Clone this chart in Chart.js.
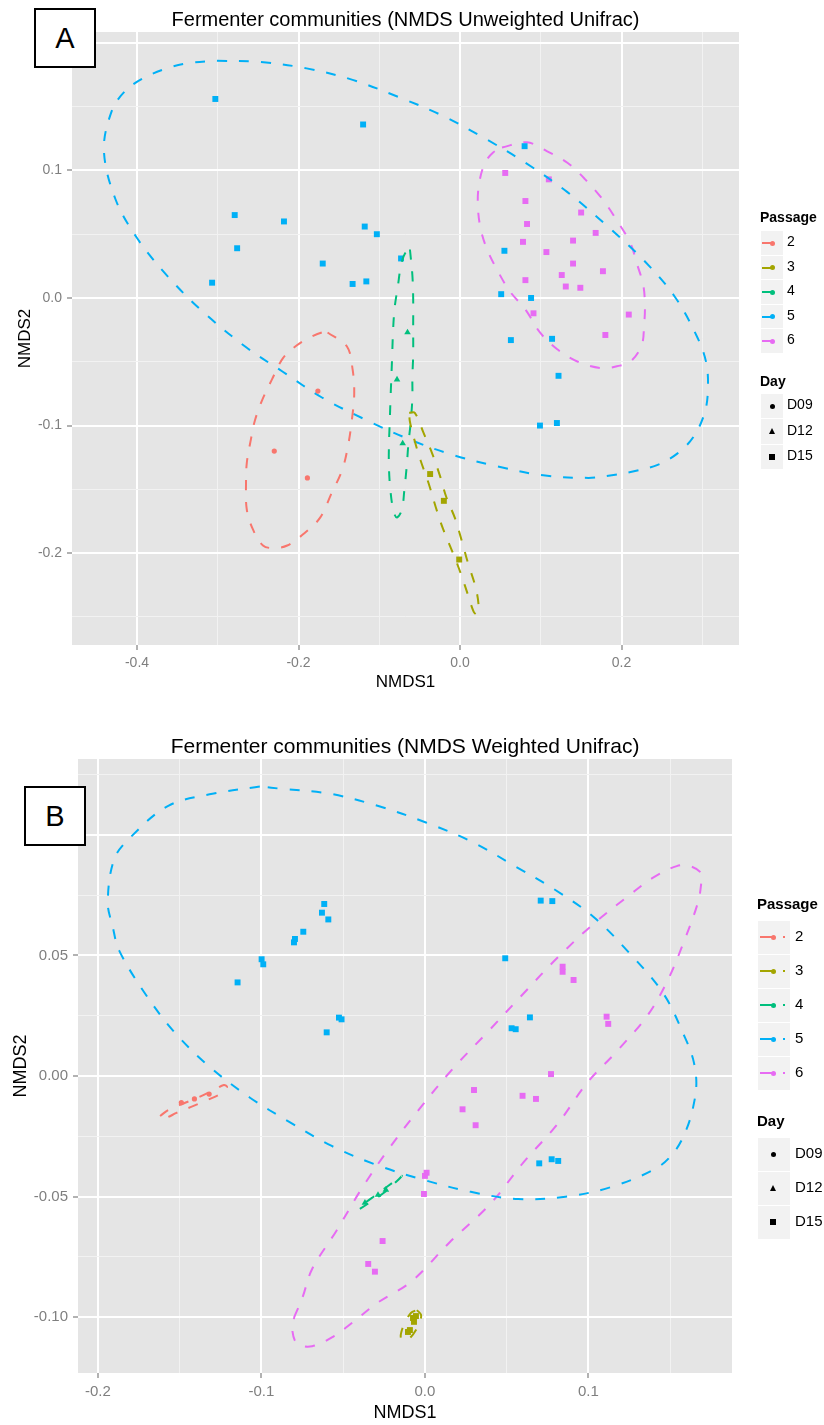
<!DOCTYPE html>
<html>
<head>
<meta charset="utf-8">
<script src="https://cdn.jsdelivr.net/npm/chart.js@4"></script>
<style>
  body { margin: 0; background: #fff; width: 824px; height: 1425px; position: relative; overflow: hidden; }
  canvas { position: absolute; left: 0; }
  #chartA { top: 0; }
  #chartB { top: 700px; }
  .tag { position: absolute; box-sizing: border-box; border: 2px solid #000; background: #fff;
         font: 29px "Liberation Sans", Arial, sans-serif; display: flex; align-items: center; justify-content: center; }
</style>
</head>
<body>
<canvas id="chartA" width="824" height="700" style="width:824px;height:700px"></canvas>
<canvas id="chartB" width="824" height="725" style="width:824px;height:725px"></canvas>
<div class="tag" style="left:34px;top:8px;width:62px;height:60px">A</div>
<div class="tag" style="left:24px;top:786px;width:62px;height:60px">B</div>
<script>
const FONT = '"Liberation Sans", Arial, sans-serif';

const passages = ["2", "3", "4", "5", "6"];
const passageColors = ["#F8766D", "#A3A500", "#00BF7D", "#00B0F6", "#E76BF3"];
const days = ["D09", "D12", "D15"];
const dayShapes = { D09: "circle", D12: "triangle", D15: "rect" };
const dayRadius = { D09: 2.6, D12: 3.8, D15: 4.2 };

// ---- panel A : NMDS Unweighted Unifrac ----
const a2x = [-0.176, -0.230, -0.189];
const a2y = [-0.073, -0.120, -0.141];
const a2d = ["D09", "D09", "D09"];
const a3x = [-0.037, -0.020, -0.001];
const a3y = [-0.138, -0.159, -0.205];
const a3d = ["D15", "D15", "D15"];
const a4x = [-0.065, -0.078, -0.071];
const a4y = [-0.027, -0.064, -0.114];
const a4d = ["D12", "D12", "D12"];
const a5x = [-0.303, -0.120, -0.279, -0.218, -0.276, -0.307, -0.118, -0.103, -0.170, -0.133, -0.116, -0.073,
             0.080, 0.055, 0.051, 0.088, 0.114, 0.063, 0.122, 0.099, 0.120];
const a5y = [0.156, 0.136, 0.065, 0.060, 0.039, 0.012, 0.056, 0.050, 0.027, 0.011, 0.013, 0.031,
             0.119, 0.037, 0.003, 0.000, -0.032, -0.033, -0.061, -0.100, -0.098];
const a5d = a5x.map(() => "D15");
const a6x = [0.056, 0.110, 0.081, 0.150, 0.083, 0.168, 0.078, 0.140, 0.107, 0.140, 0.177, 0.126, 0.081,
             0.131, 0.149, 0.091, 0.209, 0.180];
const a6y = [0.098, 0.093, 0.076, 0.067, 0.058, 0.051, 0.044, 0.045, 0.036, 0.027, 0.021, 0.018, 0.014,
             0.009, 0.008, -0.012, -0.013, -0.029];
const a6d = a6x.map(() => "D15");

// ellipse outlines
const aE2x = [-0.164, -0.140, -0.133, -0.131, -0.134, -0.139, -0.146, -0.159, -0.173, -0.192, -0.214, -0.232, -0.244,
              -0.256, -0.264, -0.265, -0.264, -0.259, -0.254, -0.245, -0.233, -0.219, -0.202, -0.186, -0.171];
const aE2y = [-0.027, -0.038, -0.056, -0.075, -0.096, -0.117, -0.135, -0.153, -0.172, -0.184, -0.194, -0.196, -0.194,
              -0.182, -0.166, -0.145, -0.129, -0.111, -0.096, -0.080, -0.064, -0.047, -0.037, -0.031, -0.027];
const aE3x = [-0.063, -0.056, -0.045, -0.035, -0.025, -0.017, -0.006, 0.002, 0.010, 0.019, 0.023, 0.021, 0.017,
              0.010, 0.001, -0.010, -0.021, -0.030, -0.039, -0.049, -0.057, -0.062];
const aE3y = [-0.090, -0.090, -0.106, -0.121, -0.139, -0.156, -0.173, -0.190, -0.208, -0.226, -0.241, -0.248, -0.246,
              -0.233, -0.216, -0.198, -0.181, -0.164, -0.145, -0.127, -0.110, -0.097];
const aE4x = [-0.062, -0.059, -0.058, -0.058, -0.058, -0.059, -0.059, -0.061, -0.064, -0.066, -0.069, -0.072, -0.078,
              -0.082, -0.086, -0.088, -0.088, -0.087, -0.086, -0.085, -0.084, -0.083, -0.081, -0.077, -0.073, -0.068];
const aE4y = [0.038, 0.018, 0.000, -0.024, -0.045, -0.062, -0.078, -0.097, -0.115, -0.132, -0.151, -0.166, -0.172,
              -0.168, -0.152, -0.133, -0.115, -0.097, -0.078, -0.062, -0.045, -0.027, -0.008, 0.009, 0.026, 0.035];
const aE5x = [-0.301, -0.248, -0.190, -0.133, -0.074, -0.022, 0.031, 0.081, 0.133, 0.183, 0.227, 0.266, 0.294, 0.305,
              0.307, 0.303, 0.289, 0.269, 0.244, 0.214, 0.188, 0.159, 0.103, 0.046, -0.009, -0.062, -0.115, -0.171,
              -0.219, -0.264, -0.318, -0.362, -0.400, -0.427, -0.441, -0.431, -0.415, -0.393, -0.363, -0.337];
const aE5y = [0.186, 0.185, 0.180, 0.171, 0.157, 0.143, 0.125, 0.106, 0.083, 0.056, 0.030, 0.001, -0.031, -0.051,
              -0.072, -0.090, -0.109, -0.122, -0.131, -0.136, -0.139, -0.141, -0.139, -0.132, -0.123, -0.111, -0.096,
              -0.078, -0.058, -0.039, -0.011, 0.017, 0.047, 0.078, 0.116, 0.147, 0.162, 0.172, 0.180, 0.184];
const aE6x = [0.052, 0.083, 0.108, 0.133, 0.155, 0.177, 0.194, 0.211, 0.219, 0.227, 0.229, 0.228, 0.225, 0.211,
              0.198, 0.176, 0.146, 0.120, 0.099, 0.081, 0.062, 0.046, 0.033, 0.025, 0.022, 0.024, 0.031, 0.041];
const aE6y = [0.118, 0.122, 0.115, 0.106, 0.093, 0.077, 0.061, 0.043, 0.027, 0.010, -0.007, -0.021, -0.037, -0.050,
              -0.053, -0.055, -0.050, -0.040, -0.027, -0.009, 0.005, 0.022, 0.039, 0.056, 0.075, 0.091, 0.106, 0.114];

// axis breaks A
const aXLabeled = [-0.4, -0.2, 0.0, 0.2];
const aXMinor = [-0.3, -0.1, 0.1, 0.3];
const aYLabeled = [0.1, 0.0, -0.1, -0.2];
const aYExtra = [0.2];
const aYMinor = [0.15, 0.05, -0.05, -0.15, -0.25];

// ---- panel B : NMDS Weighted Unifrac ----
const b2x = [-0.149, -0.141, -0.132];
const b2y = [-0.011, -0.0095, -0.0075];
const b2d = ["D09", "D09", "D09"];
const b3x = [-0.0073, -0.0067, -0.0055, -0.0092, -0.0104];
const b3y = [-0.1003, -0.1019, -0.0995, -0.1053, -0.1061];
const b3d = b3x.map(() => "D15");
const b4x = [-0.0367, -0.0287, -0.0239];
const b4y = [-0.0526, -0.0493, -0.0472];
const b4d = ["D12", "D12", "D12"];
const b5x = [-0.0616, -0.0630, -0.0591, -0.0744, -0.0795, -0.0801, -0.0999, -0.0989, -0.1146, -0.0526, -0.0510,
             -0.0601, 0.0708, 0.0779, 0.0491, 0.0642, 0.0530, 0.0555, 0.0699, 0.0775, 0.0815];
const b5y = [0.0713, 0.0677, 0.0649, 0.0598, 0.0568, 0.0554, 0.0484, 0.0463, 0.0388, 0.0242, 0.0235,
             0.0181, 0.0727, 0.0725, 0.0488, 0.0243, 0.0198, 0.0194, -0.0362, -0.0345, -0.0352];
const b5d = b5x.map(() => "D15");
const b6x = [0.0842, 0.0842, 0.0909, 0.1111, 0.1121, 0.0771, 0.0300, 0.0597, 0.0679, 0.0230, 0.0310, 0.0010,
             0.0000, -0.0006, -0.0259, -0.0347, -0.0306];
const b6y = [0.0453, 0.0432, 0.0398, 0.0246, 0.0216, 0.0008, -0.0058, -0.0082, -0.0095, -0.0138, -0.0204, -0.0401,
             -0.0414, -0.0489, -0.0684, -0.0779, -0.0811];
const b6d = b6x.map(() => "D15");

const bE2x = [-0.162, -0.157, -0.147, -0.138, -0.128, -0.123, -0.121, -0.124, -0.133, -0.143, -0.152, -0.159];
const bE2y = [-0.0166, -0.0141, -0.0112, -0.0087, -0.0054, -0.0037, -0.0046, -0.0070, -0.0099, -0.0128, -0.0153, -0.0174];
const bE3x = [-0.0049, -0.0024, -0.0031, -0.0055, -0.0086, -0.0122, -0.0147, -0.0141, -0.0116, -0.0086];
const bE3y = [-0.0970, -0.0990, -0.1019, -0.1053, -0.1082, -0.1098, -0.1086, -0.1053, -0.1015, -0.0982];
const bE4x = [-0.0398, -0.0324, -0.0245, -0.0171, -0.0141, -0.0159, -0.0226, -0.0300, -0.0373];
const bE4y = [-0.0551, -0.0518, -0.0481, -0.0435, -0.0414, -0.0423, -0.0456, -0.0493, -0.0530];
const bE5x = [-0.101, -0.130, -0.157, -0.180, -0.190, -0.194, -0.191, -0.187, -0.171, -0.153, -0.132, -0.107, -0.083,
              -0.057, -0.029, -0.001, 0.028, 0.057, 0.086, 0.114, 0.142, 0.153, 0.160, 0.164, 0.166, 0.164, 0.159,
              0.146, 0.125, 0.103, 0.080, 0.055, 0.029, 0.001, -0.029, -0.058, -0.087];
const bE5y = [0.120, 0.117, 0.112, 0.099, 0.090, 0.072, 0.062, 0.052, 0.034, 0.018, 0.004, -0.009, -0.019,
              -0.029, -0.037, -0.043, -0.048, -0.051, -0.050, -0.046, -0.038, -0.031, -0.022, -0.013, -0.003, 0.007, 0.016,
              0.034, 0.051, 0.066, 0.077, 0.087, 0.097, 0.105, 0.112, 0.117, 0.119];
const bE6x = [-0.080, -0.075, -0.069, -0.054, -0.039, -0.023, -0.005, 0.017, 0.038, 0.060, 0.081, 0.103, 0.127, 0.139,
              0.154, 0.162, 0.169, 0.169, 0.167, 0.158, 0.148, 0.136, 0.117, 0.099, 0.081, 0.060, 0.040, 0.015, -0.008,
              -0.029, -0.044, -0.056, -0.069, -0.078, -0.081];
const bE6y = [-0.100, -0.092, -0.080, -0.064, -0.047, -0.031, -0.015, 0.003, 0.018, 0.034, 0.049, 0.063, 0.076, 0.082,
              0.087, 0.087, 0.084, 0.080, 0.072, 0.055, 0.039, 0.025, 0.010, -0.003, -0.020, -0.036, -0.053, -0.069, -0.085,
              -0.094, -0.102, -0.108, -0.112, -0.111, -0.106];

// axis breaks B
const bXLabeled = [-0.2, -0.1, 0.0, 0.1];
const bXMinor = [-0.15, -0.05, 0.05, 0.15];
const bYLabeled = [0.05, 0.0, -0.05, -0.10];
const bYExtra = [0.10];
const bYMinor = [0.125, 0.075, 0.025, -0.025, -0.075];

function pointsOf(xs, ys) {
  return xs.map((x, i) => ({ x: x, y: ys[i] }));
}
function loopOf(xs, ys) {
  const p = pointsOf(xs, ys);
  p.push(p[0]);
  return p;
}
function near(list, v) {
  return list.some(t => Math.abs(t - v) < 1e-9);
}

function makeDatasets(pts, ells) {
  let sets = [];
  for (let i = 0; i < passages.length; i++) {
    sets.push({
      label: "ellipse " + passages[i],
      data: loopOf(ells[i][0], ells[i][1]),
      showLine: true,
      borderColor: passageColors[i],
      borderWidth: 2,
      borderDash: [10, 12],
      pointRadius: 0,
      tension: 0.35,
      fill: false,
    });
    sets.push({
      label: "Passage " + passages[i],
      data: pointsOf(pts[i][0], pts[i][1]),
      backgroundColor: passageColors[i],
      borderWidth: 0,
      pointStyle: pts[i][2].map(d => dayShapes[d]),
      pointRadius: pts[i][2].map(d => dayRadius[d]),
    });
  }
  return sets;
}

function makeScale(o) {
  return {
    type: "linear",
    position: o.pos,
    min: o.min,
    max: o.max,
    afterBuildTicks: s => {
      s.ticks = o.labeled.concat(o.extra, o.minor).sort((a, b) => a - b).map(v => ({ value: v }));
    },
    afterFit: s => {
      if (o.pos === "left") s.width = o.size;
      else s.height = o.size;
    },
    border: { display: false },
    grid: {
      color: c => (c.tick && near(o.minor, c.tick.value)) ? "#F2F2F2" : "#FFFFFF",
      lineWidth: c => (c.tick && near(o.minor, c.tick.value)) ? 1 : 2,
      tickColor: c => (c.tick && near(o.labeled, c.tick.value)) ? "#7F7F7F" : "rgba(0,0,0,0)",
      tickLength: 5,
      tickWidth: 1.2,
    },
    ticks: {
      autoSkip: false,
      maxRotation: 0,
      padding: o.tickPad,
      color: "#7F7F7F",
      font: { family: FONT, size: o.tickSize },
      callback: v => near(o.labeled, v) ? v.toFixed(o.digits) : "",
    },
    title: {
      display: true,
      text: o.title,
      color: "#000",
      font: { family: FONT, size: o.titleSize, lineHeight: 1.2 },
      padding: o.titlePad,
    },
  };
}

const panelBg = {
  id: "panelBg",
  beforeDraw(chart) {
    const a = chart.chartArea;
    const ctx = chart.ctx;
    ctx.save();
    ctx.fillStyle = "#E5E5E5";
    ctx.fillRect(a.left, a.top, a.right - a.left, a.bottom - a.top);
    ctx.restore();
  },
};

function drawPanel(id, o) {
  const ctx = document.getElementById(id).getContext("2d");
  return new Chart(ctx, {
    type: "scatter",
    data: { datasets: makeDatasets(o.pts, o.ells) },
    options: {
      responsive: false,
      animation: false,
      events: [],
      layout: { padding: { left: 0, right: o.padRight, top: 0, bottom: 0 } },
      scales: { x: o.x, y: o.y },
      plugins: {
        legend: { display: false },
        tooltip: { enabled: false },
        title: {
          display: true,
          text: o.title,
          fullSize: false,
          color: "#000",
          font: { family: FONT, size: o.titleSize, weight: "normal", lineHeight: 1 },
          padding: o.titlePad,
        },
      },
    },
    plugins: [panelBg],
  });
}

drawPanel("chartA", {
  title: "Fermenter communities (NMDS Unweighted Unifrac)",
  titleSize: 20,
  titlePad: { top: 10.5, bottom: 1.5 },
  padRight: 85,
  pts: [[a2x, a2y, a2d], [a3x, a3y, a3d], [a4x, a4y, a4d], [a5x, a5y, a5d], [a6x, a6y, a6d]],
  ells: [[aE2x, aE2y], [aE3x, aE3y], [aE4x, aE4y], [aE5x, aE5y], [aE6x, aE6y]],
  x: makeScale({ pos: "bottom", min: -0.4805, max: 0.3455, labeled: aXLabeled, extra: [], minor: aXMinor,
    digits: 1, size: 55, tickPad: 5, tickSize: 14, title: "NMDS1", titleSize: 17, titlePad: { top: 0, bottom: 7 } }),
  y: makeScale({ pos: "left", min: -0.272, max: 0.2085, labeled: aYLabeled, extra: aYExtra, minor: aYMinor,
    digits: 1, size: 72, tickPad: 5, tickSize: 14, title: "NMDS2", titleSize: 17, titlePad: { top: 15, bottom: 0 } }),
});

drawPanel("chartB", {
  title: "Fermenter communities (NMDS Weighted Unifrac)",
  titleSize: 21,
  titlePad: { top: 36.5, bottom: 1.5 },
  padRight: 92,
  pts: [[b2x, b2y, b2d], [b3x, b3y, b3d], [b4x, b4y, b4d], [b5x, b5y, b5d], [b6x, b6y, b6d]],
  ells: [[bE2x, bE2y], [bE3x, bE3y], [bE4x, bE4y], [bE5x, bE5y], [bE6x, bE6y]],
  x: makeScale({ pos: "bottom", min: -0.2122, max: 0.1878, labeled: bXLabeled, extra: [], minor: bXMinor,
    digits: 1, size: 52, tickPad: 5, tickSize: 15, title: "NMDS1", titleSize: 18, titlePad: { top: 0, bottom: 1 } }),
  y: makeScale({ pos: "left", min: -0.1231, max: 0.1314, labeled: bYLabeled, extra: bYExtra, minor: bYMinor,
    digits: 2, size: 78, tickPad: 5, tickSize: 15, title: "NMDS2", titleSize: 18, titlePad: { top: 10, bottom: 0 } }),
});

// ---- legends (html) ----
function addEl(css, text) {
  const d = document.createElement("div");
  d.style.cssText = "position:absolute;" + css;
  if (text) d.textContent = text;
  document.body.appendChild(d);
  return d;
}

function drawLegend(L) {
  addEl(`left:${L.x}px;top:${L.titleY - 10}px;height:20px;line-height:20px;font:bold ${L.size}px ${FONT};color:#000`, "Passage");
  passages.forEach((p, i) => {
    const cy = L.rowY + i * L.step;
    addEl(`left:${L.boxX}px;top:${cy - L.boxH / 2}px;width:${L.boxW}px;height:${L.boxH}px;background:#F2F2F2`);
    addEl(`left:${L.lineX}px;top:${cy - 1}px;width:${L.lineW}px;height:2px;background:${passageColors[i]}`);
    addEl(`left:${L.dotX - 2.5}px;top:${cy - 2.5}px;width:5px;height:5px;border-radius:50%;background:${passageColors[i]}`);
    if (L.tailX) {
      addEl(`left:${L.tailX - 1}px;top:${cy - 1}px;width:2px;height:2px;background:${passageColors[i]}`);
    }
    addEl(`left:${L.labelX}px;top:${cy - 10}px;height:20px;line-height:20px;font:${L.size}px ${FONT};color:#000`, p);
  });
  addEl(`left:${L.x}px;top:${L.dayTitleY - 10}px;height:20px;line-height:20px;font:bold ${L.size}px ${FONT};color:#000`, "Day");
  days.forEach((d, i) => {
    const cy = L.dayRowY + i * L.dayStep;
    addEl(`left:${L.boxX}px;top:${cy - L.dayBoxH / 2}px;width:${L.boxW}px;height:${L.dayBoxH}px;background:#F2F2F2`);
    const cx = L.symX;
    if (dayShapes[d] === "circle") {
      addEl(`left:${cx - 2.5}px;top:${cy - 2.5}px;width:5px;height:5px;border-radius:50%;background:#000`);
    } else if (dayShapes[d] === "triangle") {
      addEl(`left:${cx - 3.5}px;top:${cy - 3.5}px;width:0;height:0;border-left:3.5px solid transparent;border-right:3.5px solid transparent;border-bottom:6px solid #000`);
    } else {
      addEl(`left:${cx - 3}px;top:${cy - 3}px;width:6px;height:6px;background:#000`);
    }
    addEl(`left:${L.labelX}px;top:${cy - 10}px;height:20px;line-height:20px;font:${L.size}px ${FONT};color:#000`, d);
  });
}

drawLegend({
  x: 760, titleY: 219, size: 14,
  boxX: 761, boxW: 22, boxH: 23.5, rowY: 243, step: 24.5,
  lineX: 762, lineW: 10, dotX: 772, tailX: 0, labelX: 787,
  dayTitleY: 383, dayRowY: 406, dayStep: 25.5, dayBoxH: 24.5, symX: 772,
});
drawLegend({
  x: 757, titleY: 905, size: 15,
  boxX: 758, boxW: 32, boxH: 33, rowY: 937, step: 34,
  lineX: 760, lineW: 13, dotX: 773, tailX: 784, labelX: 795,
  dayTitleY: 1122, dayRowY: 1154, dayStep: 34, dayBoxH: 33, symX: 773,
});
</script>
</body>
</html>
